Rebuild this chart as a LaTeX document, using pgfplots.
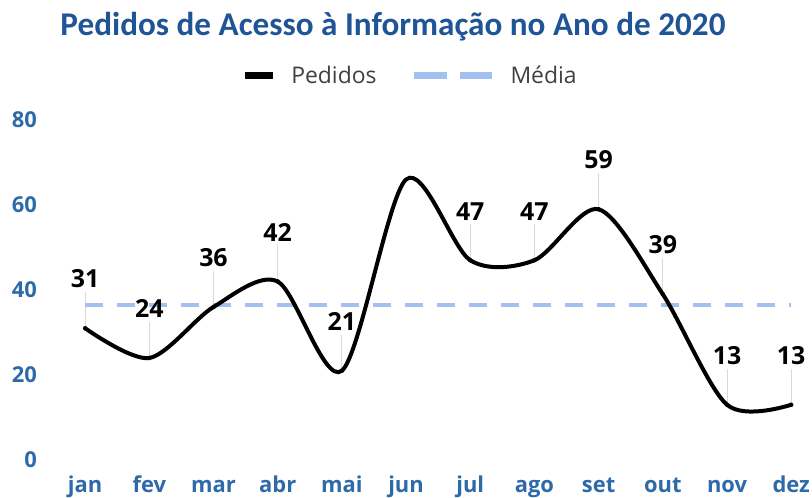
\documentclass[border=0pt]{standalone}
\usepackage{pgfplots}
\pgfplotsset{compat=1.18}
\usepackage{fontspec}
\setmainfont{Open Sans}
\newfontfamily\titlefont{Carlito}
\definecolor{titleblue}{HTML}{1F5496}
\definecolor{tickblue}{HTML}{2E6AA8}
\definecolor{meanblue}{HTML}{A4C0F0}
\definecolor{leader}{HTML}{D9D9D9}
\definecolor{legtext}{HTML}{404040}
\begin{document}
\begin{tikzpicture}[x=1bp,y=1bp]
\path[use as bounding box] (0,0) rectangle (812,498);
\node[font=\titlefont\fontsize{33.3}{38}\selectfont\bfseries, text=titleblue] at (393,471) {Pedidos de Acesso à Informação no Ano de 2020};
\begin{axis}[
  at={(53bp,38bp)}, anchor=south west,
  scale only axis, width=760bp, height=340bp,
  xmin=-0.5, xmax=11.34, ymin=0, ymax=80,
  separate axis lines,
  axis line style={draw=none}, tick style={draw=none},
  clip=false,
  xtick={0,...,11},
  xticklabels={jan,fev,mar,abr,mai,jun,jul,ago,set,out,nov,dez},
  ytick={0,20,40,60,80},
  /pgf/number format/assume math mode=true,
  xticklabel style={font=\fontsize{22}{26}\selectfont\bfseries, text=tickblue, anchor=base, inner sep=0pt, yshift=-33bp},
  yticklabel style={font=\fontsize{22}{26}\selectfont\bfseries, text=tickblue, anchor=east, inner sep=0pt, xshift=-16bp},
  legend columns=2,
  reverse legend,
  legend style={at={(0.4697,1.132)}, anchor=center, draw=none, fill=none,
    font=\fontsize{23}{27}\selectfont, text=legtext,
    /tikz/every odd column/.append style={column sep=13bp},
    /tikz/every even column/.append style={column sep=32bp}},
]
% leader lines and data labels (jun has no label)
\addplot[only marks, mark=none, forget plot,
  error bars/.cd, y dir=plus, y fixed=8.5, error mark=none,
  error bar style={draw=leader, line width=1bp, solid}]
  coordinates {(0,31) (1,24) (2,36) (3,42) (4,21) (6,47) (7,47) (8,59) (9,39) (10,13) (11,13)};
\addplot[only marks, mark=none, forget plot,
  nodes near coords,
  every node near coord/.append style={font=\fontsize{25}{30}\selectfont\bfseries, text=black, anchor=south, inner sep=0pt, yshift=40bp}]
  coordinates {(0,31) (1,24) (2,36) (3,42) (4,21) (6,47) (7,47) (8,59) (9,39) (10,13) (11,13)};
% mean
\addplot[meanblue, line width=4bp, dash pattern=on 18bp off 14bp,
  legend image code/.code={\draw[meanblue, line width=7bp, dash pattern=on 33bp off 13bp] (0bp,0bp) -- (78bp,0bp);}]
  coordinates {(0,36.5) (11,36.5)};
\addlegendentry{Média}
% pedidos
\addplot[black, line width=4bp, smooth, tension=0.5,
  legend image code/.code={\draw[black, line width=7bp] (0bp,0bp) -- (28bp,0bp);}]
  coordinates {(0,31) (1,24) (2,36) (3,42) (4,21) (5,66) (6,47) (7,47) (8,59) (9,39) (10,13) (11,13)};
\addlegendentry{Pedidos}
\end{axis}
\end{tikzpicture}
\end{document}
